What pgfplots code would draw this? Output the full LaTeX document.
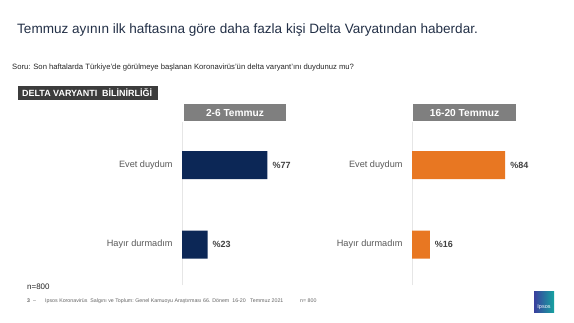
\documentclass[border=0pt]{standalone}
\usepackage{pgfplots}
\pgfplotsset{compat=1.18}
\usepackage{fontspec}
\setmainfont{Liberation Sans}
\definecolor{navy}{HTML}{0C2756}
\definecolor{orng}{HTML}{E87722}
\definecolor{titlec}{HTML}{233047}
\definecolor{hdrgray}{HTML}{7F7F7F}
\definecolor{boxdark}{HTML}{3C3C3C}
\definecolor{labgray}{HTML}{595959}
\definecolor{valgray}{HTML}{404040}
\definecolor{axisgray}{HTML}{E6E6E6}
\definecolor{logoA}{HTML}{3A3F9E}
\definecolor{logoB}{HTML}{16A3A0}
\pgfplotsset{mybar/.style={xbar, scale only axis, width=111bp, height=163bp,
  xmin=0, xmax=100, ymin=-0.509, ymax=1.541, bar width=28bp,
  axis x line=none, axis y line*=left, y axis line style={draw=axisgray, line width=0.8pt, -},
  ytick={0,1}, yticklabels={Hayır durmadım, Evet duydum}, ytick style={draw=none},
  yticklabel style={font=\fontsize{9.2}{11}\selectfont, text=labgray, inner sep=0pt, xshift=-5bp},
  /pgf/number format/assume math mode=true,
  nodes near coords={\%\pgfmathprintnumber{\pgfplotspointmeta}},
  every node near coord/.append style={font=\bfseries\fontsize{9}{10}\selectfont, text=valgray, inner sep=0pt, xshift=5bp},
  clip=false}}
\begin{document}
\begin{tikzpicture}
\path[use as bounding box, fill=white] (0,0) rectangle (574bp,-323bp);
% title
\node[anchor=west, font=\fontsize{13.6}{15}\selectfont, text=titlec, inner sep=0pt] at (17bp,-30bp) {Temmuz ayının ilk haftasına göre daha fazla kişi Delta Varyatından haberdar.};
\node[anchor=west, font=\fontsize{7.7}{8}\selectfont, text=black!85, inner sep=0pt] at (12bp,-68bp) {Soru: Son haftalarda Türkiye’de görülmeye başlanan Koronavirüs’ün delta varyant’ını duydunuz mu?};
% delta box
\fill[boxdark] (18bp,-86bp) rectangle (158bp,-100bp);
\node[anchor=west, font=\bfseries\fontsize{9}{10}\selectfont, text=white, inner sep=0pt] at (22bp,-93bp) {DELTA VARYANTI\ \ BİLİNİRLİĞİ};
% header boxes
\fill[hdrgray] (184bp,-104bp) rectangle (286bp,-121bp);
\node[font=\bfseries\fontsize{10.2}{11}\selectfont, text=white, inner sep=0pt] at (235bp,-112.5bp) {2-6 Temmuz};
\fill[hdrgray] (413bp,-104bp) rectangle (516bp,-121bp);
\node[font=\bfseries\fontsize{10.2}{11}\selectfont, text=white, inner sep=0pt] at (464.5bp,-112.5bp) {16-20 Temmuz};
% left chart
\begin{axis}[mybar, at={(182bp,-285bp)}, anchor=south west]
\addplot[fill=navy, draw=none] coordinates {(23,0) (77,1)};
\end{axis}
% right chart
\begin{axis}[mybar, at={(412bp,-285bp)}, anchor=south west]
\addplot[fill=orng, draw=none] coordinates {(16,0) (84,1)};
\end{axis}
% n
\node[anchor=west, font=\fontsize{8}{9}\selectfont, text=black!85, inner sep=0pt] at (27bp,-287bp) {n=800};
% footer
\node[anchor=west, font=\fontsize{5.3}{6}\selectfont, text=black!60, inner sep=0pt] at (27bp,-301bp) {\textbf{3} \ –};
\node[anchor=west, font=\fontsize{5.3}{6}\selectfont, text=black!60, inner sep=0pt] at (45bp,-301bp) {Ipsos Koronavirüs\ \ Salgını ve Toplum:\ Genel Kamuoyu Araştırması 66. Dönem\ \ 16-20\ \ \ Temmuz 2021};
\node[anchor=west, font=\fontsize{5.3}{6}\selectfont, text=black!60, inner sep=0pt] at (300bp,-301bp) {n= 800};
% logo
\shade[left color=logoA, right color=logoB] (534bp,-291bp) rectangle (554bp,-312bp);
\node[font=\fontsize{5.5}{6}\selectfont, text=white, inner sep=0pt] at (544bp,-307bp) {Ipsos};
\end{tikzpicture}
\end{document}
